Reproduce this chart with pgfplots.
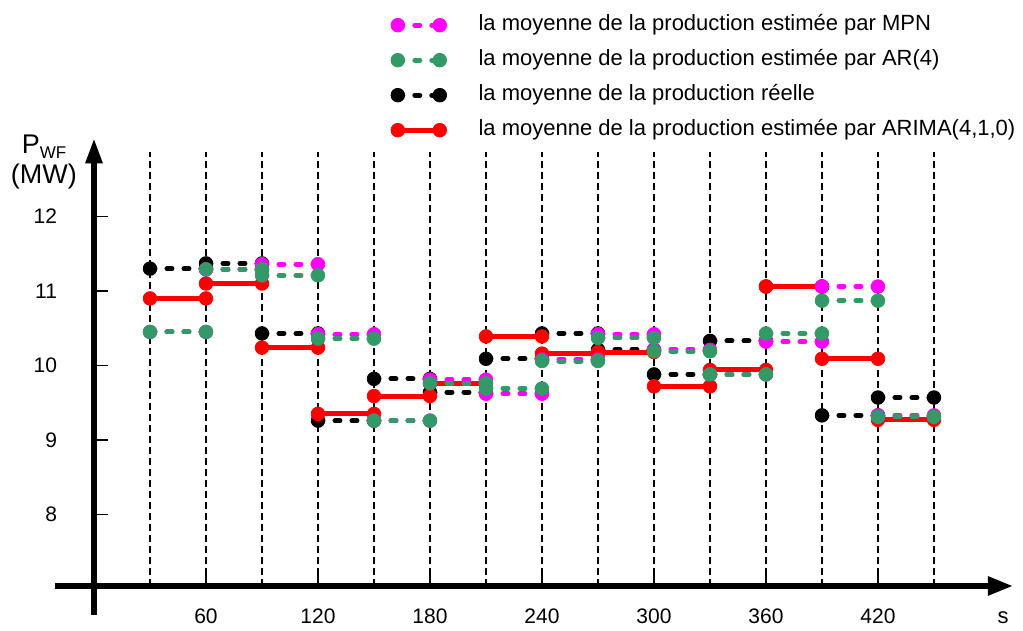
\documentclass[border=0pt]{standalone}
\usepackage{fontspec}
\setmainfont{Liberation Sans}
\usepackage{pgfplots}
\usepackage{pgfplotstable}
\pgfplotsset{compat=1.18}
\usetikzlibrary{arrows.meta}

\definecolor{mpncol}{RGB}{255,0,255}
\definecolor{arcol}{RGB}{51,153,102}
\definecolor{arimacol}{RGB}{255,0,0}

% 30 s averages, one step per window (nan separates the steps)
\pgfplotstableread{
t v
30 11.30
60 11.30
60 nan
60 11.37
90 11.37
90 nan
90 10.43
120 10.43
120 nan
120 9.26
150 9.26
150 nan
150 9.82
180 9.82
180 nan
180 9.64
210 9.64
210 nan
210 10.09
240 10.09
240 nan
240 10.43
270 10.43
270 nan
270 10.21
300 10.21
300 nan
300 9.88
330 9.88
330 nan
330 10.33
360 10.33
360 nan
360 11.06
390 11.06
390 nan
390 9.33
420 9.33
420 nan
420 9.57
450 9.57
}\reelle

\pgfplotstableread{
t v
30 10.90
60 10.90
60 nan
60 11.10
90 11.10
90 nan
90 10.24
120 10.24
120 nan
120 9.35
150 9.35
150 nan
150 9.59
180 9.59
180 nan
180 9.76
210 9.76
210 nan
210 10.39
240 10.39
240 nan
240 10.16
270 10.16
270 nan
270 10.18
300 10.18
300 nan
300 9.72
330 9.72
330 nan
330 9.94
360 9.94
360 nan
360 11.06
390 11.06
390 nan
390 10.09
420 10.09
420 nan
420 9.27
450 9.27
}\arima

\pgfplotstableread{
t v
30 10.45
60 10.45
60 nan
60 11.29
90 11.29
90 nan
90 11.36
120 11.36
120 nan
120 10.42
150 10.42
150 nan
150 9.26
180 9.26
180 nan
180 9.81
210 9.81
210 nan
210 9.62
240 9.62
240 nan
240 10.08
270 10.08
270 nan
270 10.42
300 10.42
300 nan
300 10.21
330 10.21
330 nan
330 9.88
360 9.88
360 nan
360 10.32
390 10.32
390 nan
390 11.06
420 11.06
420 nan
420 9.33
450 9.33
}\mpn

\pgfplotstableread{
t v
30 10.45
60 10.45
60 nan
60 11.29
90 11.29
90 nan
90 11.21
120 11.21
120 nan
120 10.36
150 10.36
150 nan
150 9.26
180 9.26
180 nan
180 9.76
210 9.76
210 nan
210 9.69
240 9.69
240 nan
240 10.06
270 10.06
270 nan
270 10.37
300 10.37
300 nan
300 10.19
330 10.19
330 nan
330 9.88
360 9.88
360 nan
360 10.43
390 10.43
390 nan
390 10.87
420 10.87
420 nan
420 9.31
450 9.31
}\arq

\pgfplotsset{
  step/.style={line width=2.5pt, mark=*, mark size=3.4pt,
    mark options={solid, line width=0.4pt}},
  dstep/.style={step, dash pattern=on 2.5pt off 6pt, line cap=round},
}

\begin{document}
\begin{tikzpicture}
\begin{axis}[
  x=0.93333pt, y=37.25pt,
  xmin=0, xmax=492.3, ymin=7.04, ymax=13.05,
  axis x line*=bottom, axis y line*=left,
  axis line style={draw=none},
  clip=false,
  xtick={60,120,...,420}, ytick={8,9,...,12},
  tick align=inside,
  major tick length=7pt,
  tick style={black, line width=0.8pt},
  ticklabel style={font=\fontsize{10.5}{12}\selectfont},
  /pgf/number format/assume math mode=true,
  xticklabel style={yshift=-8pt},
  yticklabel style={xshift=-15pt},
  unbounded coords=jump,
  legend image code/.code={\draw[#1] plot coordinates {(0pt,0pt) (21pt,0pt)};},
  legend cell align=left,
  legend style={at={(0.3232,1.276)}, anchor=north west, draw=none, fill=none,
    inner sep=0pt, outer sep=0pt, row sep=7pt, column sep=16pt,
    nodes={inner sep=0pt, text height=8pt, text depth=2.5pt,
      font=\fontsize{11}{13}\selectfont}},
]
% page frame
\path (axis cs:-50.36,6.4765) rectangle (axis cs:497.7,14.906);

% window boundaries
\pgfplotsinvokeforeach{30,60,...,450}{
  \draw[black, line width=0.6pt, dash pattern=on 3.5pt off 2pt]
    (axis cs:#1,7.04) -- (axis cs:#1,12.87);
}

% axes
\draw[line width=2.75pt, -{Triangle[length=12.5pt,width=9pt]}]
  (axis cs:-20.9,7.04) -- (axis cs:492.3,7.04);
\draw[line width=2.75pt, -{Triangle[length=12.5pt,width=8pt]}]
  (axis cs:0,6.651) -- (axis cs:0,13.05);

\node[font=\fontsize{13.5}{15}\selectfont] at (axis cs:-26.8,12.93)
  {P\raisebox{-0.35ex}{\fontsize{8.5}{9}\selectfont WF}};
\node[font=\fontsize{13.5}{15}\selectfont] at (axis cs:-26.8,12.53) {(MW)};
\node[font=\fontsize{11}{13}\selectfont] at (axis cs:487,6.62) {s};

\addlegendimage{dstep, color=mpncol}
\addlegendentry{la moyenne de la production estimée par MPN}
\addlegendimage{dstep, color=arcol}
\addlegendentry{la moyenne de la production estimée par AR(4)}
\addlegendimage{dstep, color=black}
\addlegendentry{la moyenne de la production réelle}
\addlegendimage{step, color=arimacol}
\addlegendentry{la moyenne de la production estimée par ARIMA(4,1,0)}

\addplot[dstep, color=black, forget plot] table[x=t, y=v] {\reelle};
\addplot[step, color=arimacol, forget plot] table[x=t, y=v] {\arima};
\addplot[dstep, color=mpncol, forget plot] table[x=t, y=v] {\mpn};
\addplot[dstep, color=arcol, forget plot] table[x=t, y=v] {\arq};
\end{axis}
\end{tikzpicture}
\end{document}
